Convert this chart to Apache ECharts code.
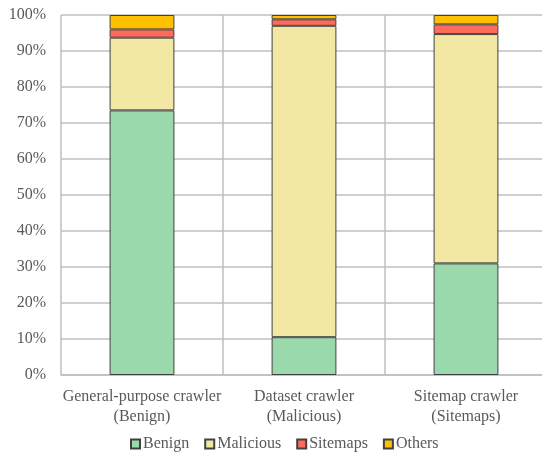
<!DOCTYPE html>
<html>
<head>
<meta charset="utf-8">
<script src="https://cdn.jsdelivr.net/npm/echarts@6/dist/echarts.min.js"></script>
<style>
  html, body { margin: 0; padding: 0; background: #fff; }
  #chart { width: 542px; height: 452px; }
</style>
</head>
<body>
<div id="chart"></div>
<script>
// Crawler types and their share of requests by category (percent)
const categories = ['General-purpose crawler\n(Benign)', 'Dataset crawler\n(Malicious)', 'Sitemap crawler\n(Sitemaps)'];
const benign    = [73.5, 10.5, 31.0];
const malicious = [20.2, 86.5, 63.7];
const sitemaps  = [2.3, 1.8, 2.7];
const others    = [4.0, 1.2, 2.6];
const yTicks = [0, 10, 20, 30, 40, 50, 60, 70, 80, 90, 100];

const font = 'Liberation Serif, Times New Roman, serif';
const textColor = '#595959';

function stackSeries(name, data, color) {
  return {
    name: name,
    type: 'bar',
    stack: 'total',
    barWidth: '40%',
    data: data,
    itemStyle: { color: color, borderColor: '#404040', borderWidth: 1 }
  };
}

const chart = echarts.init(document.getElementById('chart'), null, { renderer: 'canvas' });
chart.setOption({
  animation: false,
  textStyle: { fontFamily: font },
  grid: { left: 61, top: 15, width: 486, bottom: 77, containLabel: false, outerBoundsMode: 'none' },
  legend: {
    top: 431,
    left: 125,
    itemWidth: 9,
    itemHeight: 9,
    itemGap: 15,
    icon: 'rect',
    textStyle: { fontFamily: font, fontSize: 16, color: textColor, padding: [0, 0, 0, -2] },
    data: ['Benign', 'Malicious', 'Sitemaps', 'Others']
  },
  xAxis: {
    type: 'category',
    data: categories,
    axisTick: { show: false },
    axisLine: { lineStyle: { color: '#bfbfbf', width: 1.5 } },
    axisLabel: { interval: 0, fontFamily: font, fontSize: 16, color: textColor, lineHeight: 20, margin: 12 },
    splitLine: { show: true, interval: 0, lineStyle: { color: '#bfbfbf', width: 1.5 } }
  },
  yAxis: {
    type: 'value',
    min: yTicks[0],
    max: yTicks[yTicks.length - 1],
    interval: 10,
    axisLine: { show: false },
    axisTick: { show: false },
    axisLabel: { fontFamily: font, fontSize: 16, color: textColor, margin: 15, formatter: v => v + '%' },
    splitLine: { lineStyle: { color: '#bfbfbf', width: 1.5 } }
  },
  series: [
    stackSeries('Benign', benign, '#9ad9ac'),
    stackSeries('Malicious', malicious, '#f2e8a4'),
    stackSeries('Sitemaps', sitemaps, '#ff6b5b'),
    stackSeries('Others', others, '#ffc000')
  ]
});
</script>
</body>
</html>
